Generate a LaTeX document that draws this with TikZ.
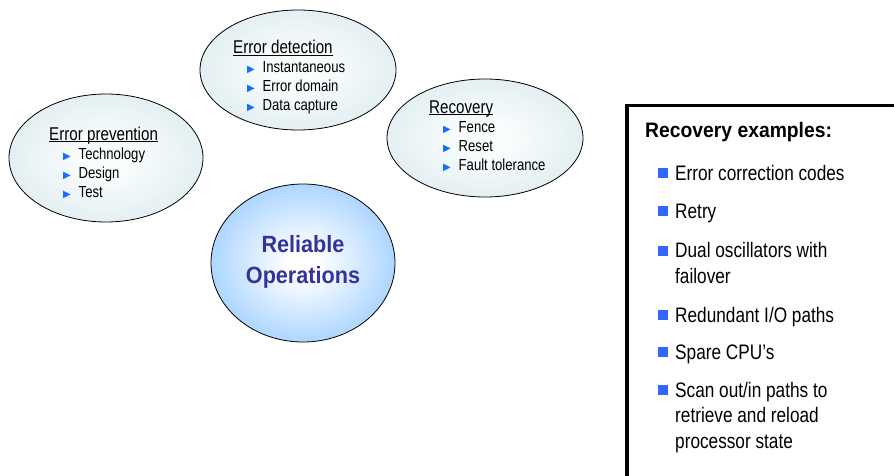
\documentclass[tikz,border=0pt]{standalone}
\usepackage{fontspec}
\usetikzlibrary{shapes.geometric}
\newfontfamily\narrowfont[FakeStretch=0.82]{Liberation Sans}
\newfontfamily\headfont[FakeStretch=0.92]{Liberation Sans}
\newfontfamily\symfont{DejaVu Sans}
\definecolor{bubbleedge}{RGB}{212,230,235}
\definecolor{bubblemid}{RGB}{250,253,253}
\definecolor{coreedge}{RGB}{150,202,255}
\definecolor{coretext}{RGB}{51,51,153}
\definecolor{tripoint}{RGB}{20,110,255}
\definecolor{sqbullet}{RGB}{51,102,255}
% soft radial fills for the bubbles
\pgfdeclareradialshading{bubbleshade}{\pgfpoint{0bp}{0bp}}{color(0bp)=(bubblemid); color(6bp)=(bubblemid); color(38bp)=(bubbleedge); color(50bp)=(bubbleedge)}
\pgfdeclareradialshading{coreshade}{\pgfpoint{0bp}{0bp}}{color(0bp)=(white); color(4bp)=(white); color(31bp)=(coreedge); color(50bp)=(coreedge)}
% underlined topic heading, triangle and square bullets
\newsavebox{\headbox}
\newcommand{\topichead}[1]{{\fontsize{18.5}{19}\selectfont\sbox\headbox{#1}\rlap{\rule[-2pt]{\wd\headbox}{0.9pt}}\usebox\headbox}}
\newcommand{\topicitem}{\makebox[29.5pt][l]{\hspace*{14pt}\textcolor{tripoint}{\symfont\fontsize{10}{10}\selectfont ▶}}}
\newcommand{\exampleitem}{\leavevmode\llap{\textcolor{sqbullet}{\rule[2pt]{10pt}{10pt}}\hspace{7pt}}}
\tikzset{
% Two bubble styles: topics and the core
bubble/.style={ellipse,draw,line width=0.8pt,inner sep=0pt,shading=bubbleshade},
core/.style={ellipse,draw,line width=0.8pt,inner sep=0pt,shading=coreshade},
% texts sit on the baseline of their last line
topic/.style={anchor=base west,align=left,inner sep=0pt,font=\narrowfont\fontsize{16}{19}\selectfont},
example/.style={anchor=base west,align=left,inner sep=0pt,font=\narrowfont\fontsize{21}{25.5}\selectfont}
}

\begin{document}
\begin{tikzpicture}[x=1pt,y=-1pt]
\useasboundingbox (0,0) rectangle (894,476);
\clip (0,0) rectangle (894,476);
% The bubbles
\node (prevent) [bubble,minimum width=194pt,minimum height=128pt] at (106,158) {};
\node (detect) [bubble,minimum width=196pt,minimum height=120pt] at (298,70) {};
\node (recover) [bubble,minimum width=196pt,minimum height=118pt] at (485,138) {};
\node (core) [core,minimum width=184pt,minimum height=158pt] at (303,263) {};
% Their texts
\node (prevent text) [topic] at (49,197) {\topichead{Error prevention}\\\topicitem Technology\\\topicitem Design\\\topicitem Test};
\node (detect text) [topic] at (233,111) {\topichead{Error detection}\\\topicitem Instantaneous\\\topicitem Error domain\\\topicitem Data capture};
\node (recover text) [topic] at (429,170) {\topichead{Recovery}\\\topicitem Fence\\\topicitem Reset\\\topicitem Fault tolerance};
\node (core text) [anchor=base,align=center,inner sep=0pt,text=coretext,font=\headfont\bfseries\fontsize{23.5}{31}\selectfont] at (303,283) {Reliable\\Operations};
% The examples box
\draw[line width=3.5pt,fill=white] (627,105.5) rectangle (930,520);
\node (examples head) [anchor=base west,inner sep=0pt,font=\headfont\bfseries\fontsize{21}{25}\selectfont] at (645,138) {Recovery examples:};
\node (ecc) [example] at (675,180) {\exampleitem Error correction codes};
\node (retry) [example] at (675,218) {\exampleitem Retry};
\node (dual) [example] at (675,283) {\exampleitem Dual oscillators with\\failover};
\node (redundant) [example] at (675,322) {\exampleitem Redundant I/O paths};
\node (spare) [example] at (675,359) {\exampleitem Spare CPU’s};
\node (scan) [example] at (675,448) {\exampleitem Scan out/in paths to\\retrieve and reload\\processor state};
\end{tikzpicture}
\end{document}
